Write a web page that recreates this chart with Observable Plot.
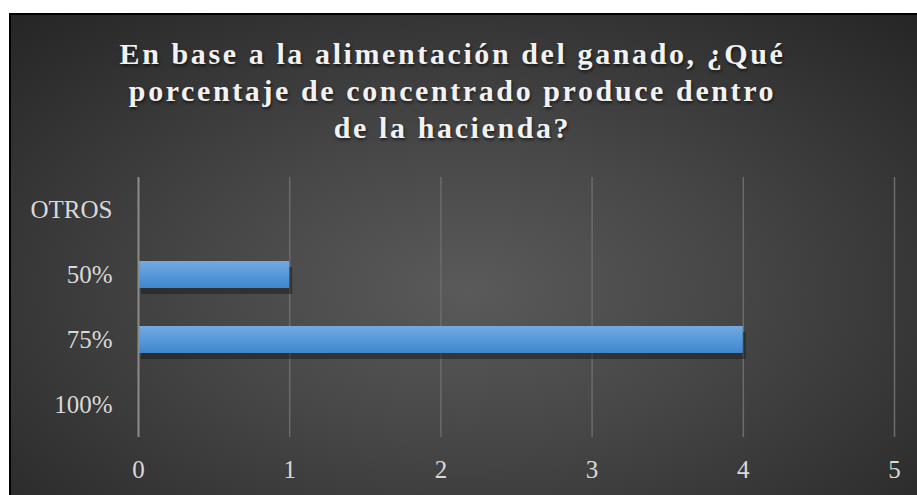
<!DOCTYPE html>
<html>
<head>
<meta charset="utf-8">
<script src="https://cdn.jsdelivr.net/npm/d3@7"></script>
<script src="https://cdn.jsdelivr.net/npm/@observablehq/plot@0.6"></script>
<style>
  html, body { margin: 0; padding: 0; background: #ffffff; width: 917px; height: 495px; overflow: hidden; }
  #frame {
    position: absolute; left: 9px; top: 13px; width: 930px; height: 500px;
    border-left: 2px solid #000; border-top: 2px solid #000;
    background: radial-gradient(ellipse 70% 75% at 49% 55%, #5a5a5a 0%, #474747 40%, #262626 100%);
  }
  .hdr {
    position: absolute; left: -6px; top: 35px; width: 917px; text-align: center;
    font-family: 'Liberation Serif', serif; font-weight: 700; font-size: 30px;
    line-height: 37px; letter-spacing: 2.6px; color: #f2f2f2;
    text-shadow: 1px 2px 3px rgba(0,0,0,0.6);
  }
  #chart { position: absolute; left: 0; top: 0; }
  #chart svg { background: transparent; overflow: visible; }
</style>
</head>
<body>
<div id="frame"></div>
<div id="chart"></div>
<div class="hdr">En base a la alimentación del ganado, ¿Qué<br>porcentaje de concentrado produce dentro<br>de la hacienda?</div>
<script>
const categories = ["OTROS", "50%", "75%", "100%"];
const values = [0, 1, 4, 0];
const xTicks = [0, 1, 2, 3, 4, 5];
const gridValues = [1, 2, 3, 4, 5];

const data = categories.map((c, i) => ({category: c, value: values[i]}));

const plot = Plot.plot({
  width: 917,
  height: 495,
  marginLeft: 138,
  marginRight: 23,
  marginTop: 177,
  marginBottom: 58,
  style: {background: "transparent", fontFamily: "'Liberation Serif'", fontSize: "25px", color: "#d9d9d9"},
  x: {domain: [0, 5], ticks: xTicks, tickSize: 0, tickPadding: 23, label: null, tickFormat: d => String(d)},
  y: {domain: categories, paddingInner: 0.585, paddingOuter: 0.2925, tickSize: 0, tickPadding: 26, label: null},
  marks: [
    Plot.ruleX(gridValues, {stroke: "#6b6b6b", strokeWidth: 1.5}),
    Plot.barX(data.filter(d => d.value > 0), {x: "value", y: "category", fill: "#141414", fillOpacity: 0.45, dx: 3, dy: 6}),
    Plot.barX(data.filter(d => d.value > 0), {x: "value", y: "category", fill: "url(#barGrad)"}),
    Plot.ruleX([0], {stroke: "#8c8c8c", strokeWidth: 2})
  ]
});

const ns = "http://www.w3.org/2000/svg";
const defs = document.createElementNS(ns, "defs");
defs.innerHTML = '<linearGradient id="barGrad" x1="0" y1="0" x2="0" y2="1">' +
  '<stop offset="0" stop-color="#73aae0"/>' +
  '<stop offset="0.5" stop-color="#5799da"/>' +
  '<stop offset="1" stop-color="#3f86cc"/></linearGradient>';
plot.insertBefore(defs, plot.firstChild);
document.getElementById("chart").appendChild(plot);
</script>
</body>
</html>
